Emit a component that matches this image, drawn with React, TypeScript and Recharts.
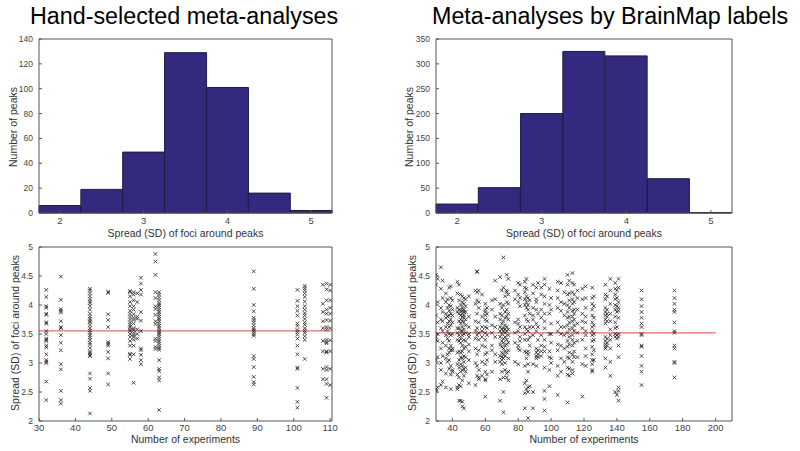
import {
  Bar,
  BarChart,
  ReferenceLine,
  Scatter,
  ScatterChart,
  XAxis,
  YAxis,
} from "recharts";

// histogram bins (centres) and counts
const binCenters = [2, 2.5, 3, 3.5, 4, 4.5, 5];
const handCounts = [6, 19, 49, 129, 101, 16, 2];
const brainmapCounts = [18, 51, 200, 325, 316, 69, 1];

const handYTicks = [0, 20, 40, 60, 80, 100, 120, 140];
const brainmapYTicks = [0, 50, 100, 150, 200, 250, 300, 350];
const spreadTicks = [2, 2.5, 3, 3.5, 4, 4.5, 5];
const handXTicks = [30, 40, 50, 60, 70, 80, 90, 100, 110];
const brainmapXTicks = [40, 60, 80, 100, 120, 140, 160, 180, 200];

const handMean = 3.555;
const brainmapMean = 3.52;

// scatter: [number of experiments, spreads of the peaks of that meta-analysis]
const handColumns: [number, number[]][] = [
  [32, [4.26, 4.14, 3.98, 3.95, 3.85, 3.83, 3.7, 3.68, 3.55, 3.5, 3.42, 3.4, 3.38, 3.3, 3.27, 3.15, 3.05, 3.02, 3.0, 2.68, 2.36]],
  [36, [4.49, 4.09, 3.93, 3.9, 3.87, 3.72, 3.62, 3.6, 3.48, 3.35, 3.22, 2.98, 2.89, 2.52, 2.36, 2.3]],
  [44, [4.28, 4.25, 4.2, 4.15, 4.1, 4.06, 4.03, 3.98, 3.92, 3.85, 3.8, 3.76, 3.72, 3.7, 3.65, 3.6, 3.56, 3.52, 3.48, 3.44, 3.4, 3.35, 3.32, 3.26, 3.2, 3.17, 3.14, 3.12, 2.82, 2.73, 2.57, 2.52, 2.13]],
  [49, [4.23, 4.21, 3.84, 3.74, 3.62, 3.36, 3.33, 3.3, 3.19, 3.08, 2.82, 2.63]],
  [55, [4.24, 4.22, 4.15, 4.05, 3.98, 3.9, 3.85, 3.8, 3.75, 3.7, 3.66, 3.62, 3.58, 3.55, 3.5, 3.45, 3.38, 3.3, 3.16, 3.14, 3.07]],
  [56, [4.22, 4.18, 4.08, 3.98, 3.92, 3.84, 3.78, 3.74, 3.68, 3.6, 3.57, 3.52, 3.48, 3.45, 3.4, 3.3, 3.15, 2.66]],
  [57, [4.2, 4.05, 3.8, 3.76, 3.58, 3.5, 3.42]],
  [58, [4.47, 4.37, 4.26, 4.18, 3.88, 3.73, 3.55, 3.25, 3.22, 3.14, 3.05, 2.98]],
  [62, [4.88, 4.75, 4.52, 4.22, 4.12, 3.98, 3.93, 3.83, 3.72, 3.67, 3.42, 3.38, 3.28, 3.24]],
  [63, [4.22, 4.18, 4.13, 4.08, 4.03, 4.0, 3.96, 3.92, 3.88, 3.84, 3.8, 3.76, 3.72, 3.68, 3.64, 3.6, 3.56, 3.53, 3.5, 3.46, 3.42, 3.38, 3.34, 3.3, 3.26, 3.23, 3.05, 2.9, 2.86, 2.75, 2.7, 2.19]],
  [89, [4.58, 4.28, 4.0, 3.89, 3.78, 3.74, 3.7, 3.65, 3.6, 3.57, 3.54, 3.5, 3.47, 3.12, 3.07, 2.93, 2.76, 2.67, 2.63]],
  [101, [4.26, 4.07, 3.98, 3.9, 3.82, 3.68, 3.64, 3.57, 3.53, 3.49, 3.42, 3.3, 3.15, 2.92, 2.9, 2.57, 2.33, 2.23]],
  [103, [4.33, 4.29, 4.25, 4.2, 4.14, 4.06, 3.98, 3.92, 3.86, 3.82, 3.76, 3.7, 3.66, 3.6, 3.56, 3.52, 3.46, 3.4, 3.07]],
  [108, [4.35, 4.02, 3.88, 3.72, 3.6, 3.38, 3.2, 2.9, 2.72]],
  [109, [4.37, 4.27, 4.08, 3.92, 3.85, 3.74, 3.62, 3.58, 3.4, 3.36, 3.34, 3.2, 3.18, 2.93, 2.88, 2.72, 2.64, 2.4]],
  [110, [4.35, 4.25, 4.08, 3.95, 3.85, 3.73, 3.6, 3.39, 3.2, 2.9, 2.62]],
];

const brainmapColumns: [number, number[]][] = [
  [30, [4.52, 4.35, 3.82, 3.45, 3.4, 3.05, 2.55, 2.52]],
  [31, [4.45, 4.05, 3.7, 3.5, 3.38, 3.1, 2.58]],
  [33, [4.65, 4.28, 3.95, 3.75, 3.6, 3.25, 3.0, 2.88, 2.62]],
  [34, [4.42, 4.12, 3.88, 3.72, 3.55, 3.35, 3.12, 2.68]],
  [36, [4.2, 4.05, 3.85, 3.78, 3.62, 3.48, 3.3, 3.08, 2.82, 2.58]],
  [37, [4.1, 3.95, 3.8, 3.68, 3.55, 3.42, 3.15, 3.02]],
  [38, [4.3, 4.0, 3.9, 3.82, 3.72, 3.62, 3.5, 3.38, 3.25, 3.18, 3.05, 2.9]],
  [39, [4.32, 4.12, 3.98, 3.85, 3.75, 3.65, 3.48, 3.3, 3.22, 2.95, 2.8, 2.55]],
  [40, [4.08, 3.92, 3.82, 3.7, 3.5, 3.25, 3.22, 2.88, 2.85]],
  [43, [4.4, 4.2, 3.95, 3.88, 3.6, 3.52, 3.4, 3.18, 2.98, 2.8, 2.58, 2.55]],
  [44, [4.35, 4.08, 3.92, 3.85, 3.72, 3.6, 3.48, 3.38, 3.2, 3.05, 2.92, 2.75, 2.62, 2.35]],
  [45, [4.18, 4.0, 3.9, 3.82, 3.75, 3.68, 3.55, 3.42, 3.35, 3.18, 3.1, 2.98, 2.85, 2.6, 2.35]],
  [46, [4.15, 4.05, 3.95, 3.9, 3.85, 3.8, 3.72, 3.62, 3.55, 3.48, 3.3, 3.2, 3.08, 2.95, 2.88, 2.7, 2.33, 2.25]],
  [47, [4.12, 4.02, 3.92, 3.88, 3.82, 3.78, 3.7, 3.58, 3.5, 3.4, 3.25, 3.12, 3.02, 2.9, 2.78, 2.22]],
  [48, [4.1, 3.98, 3.88, 3.75, 3.65, 3.52, 3.38, 3.28, 3.1, 2.92, 2.85]],
  [50, [4.15, 3.8, 3.62, 3.5, 3.45, 3.32, 3.2, 3.05, 2.65]],
  [54, [4.25, 4.02, 3.72, 3.55, 3.42, 3.25, 3.0, 2.62]],
  [55, [4.58, 4.57, 4.22, 4.08, 3.85, 3.6, 3.48, 3.15, 2.95, 2.78]],
  [56, [4.25, 4.05, 3.95, 3.7, 3.52, 3.4, 3.22, 2.88, 2.75, 2.72]],
  [58, [4.18, 3.8, 3.62, 3.55, 3.45, 3.3, 3.02, 2.78]],
  [60, [4.02, 3.92, 3.88, 3.82, 3.75, 3.62, 3.52, 3.4, 3.28, 3.15, 2.98, 2.85, 2.72, 2.7, 2.42]],
  [61, [3.95, 3.85, 3.72, 3.6, 3.48, 3.18, 3.05, 2.8]],
  [64, [4.08, 3.92, 3.65, 3.52, 3.3, 3.22, 2.85]],
  [66, [4.42, 4.1, 3.8, 3.62, 3.45, 3.15, 3.02]],
  [69, [4.48, 4.02, 3.85, 3.75, 3.62, 3.55, 3.45, 3.32, 3.12, 3.02, 2.72, 2.35]],
  [70, [4.25, 3.95, 3.82, 3.68, 3.58, 3.5, 3.38, 3.28, 3.18, 3.1, 3.05, 2.98, 2.85]],
  [71, [4.82, 4.3, 4.0, 3.72, 3.6, 3.55, 3.42, 3.35, 3.25, 3.15, 3.08, 2.75, 2.5, 2.15]],
  [72, [4.15, 3.88, 3.78, 3.65, 3.58, 3.52, 3.45, 3.3, 3.2, 3.12, 3.0, 2.88]],
  [73, [4.52, 4.25, 4.22, 4.05, 3.92, 3.8, 3.62, 3.55, 3.4, 3.32, 3.18, 2.82, 2.75]],
  [74, [4.45, 4.18, 4.02, 3.85, 3.75, 3.58, 3.48, 3.35, 3.22, 3.08, 2.85, 2.7]],
  [78, [4.25, 4.1, 3.7, 3.52, 3.35, 3.02]],
  [80, [4.38, 4.18, 4.05, 3.75, 3.68, 3.55, 3.3, 3.25, 2.98]],
  [81, [4.35, 4.12, 3.98, 3.62, 3.45, 3.38, 3.22]],
  [84, [4.4, 4.3, 4.22, 4.1, 4.0, 3.82, 3.62, 3.5, 3.4, 3.2, 2.95, 2.65, 2.48, 2.22]],
  [85, [4.45, 4.28, 4.15, 4.05, 3.95, 3.75, 3.58, 3.18, 3.08, 2.7, 2.55]],
  [86, [4.12, 4.0, 3.92, 3.72, 3.55, 3.4, 3.2, 3.15, 2.98, 2.85, 2.58, 2.5, 2.05]],
  [87, [4.08, 3.85, 3.62, 3.45, 3.3, 2.6]],
  [89, [4.35, 4.2, 3.95, 3.82, 3.75, 3.62, 3.48, 2.98, 2.5, 2.22]],
  [91, [4.3, 4.1, 4.05, 3.92, 3.68, 3.55, 3.25, 3.18, 3.12, 3.08, 2.95]],
  [92, [4.38, 3.85, 3.62, 3.4, 3.22, 3.15, 3.1]],
  [94, [4.3, 4.18, 3.92, 3.78, 3.48, 3.3, 3.2, 3.12]],
  [96, [4.45, 4.35, 4.15, 4.02, 3.85, 3.72, 3.6, 3.4, 3.28, 3.2, 2.92, 2.52, 2.38, 2.18]],
  [99, [4.28, 4.0, 3.85, 3.5, 3.2, 3.1, 2.88, 2.6]],
  [100, [4.12, 3.92, 3.68, 3.5, 3.35, 3.08, 3.0]],
  [104, [4.4, 4.25, 4.12, 3.95, 3.7, 3.55, 3.32, 3.22, 2.95, 2.78, 2.45]],
  [106, [4.38, 4.05, 3.9, 3.62, 3.5, 3.3, 3.08, 2.85]],
  [108, [4.22, 4.02, 3.82, 3.62, 3.48, 3.25, 3.02]],
  [110, [4.52, 4.35, 4.18, 4.0, 3.88, 3.78, 3.65, 3.52, 3.38, 3.28, 3.1, 2.92, 2.8, 2.32]],
  [111, [4.42, 4.2, 4.08, 3.95, 3.8, 3.7, 3.58, 3.45, 3.32, 3.18, 3.08, 2.9, 2.78]],
  [113, [4.55, 4.38, 4.22, 4.1, 4.02, 3.9, 3.8, 3.72, 3.6, 3.48, 3.4, 3.3, 3.15, 3.02, 2.88, 2.82]],
  [114, [4.35, 4.18, 4.05, 3.92, 3.85, 3.75, 3.65, 3.55, 3.35, 3.2, 3.1]],
  [116, [4.25, 4.12, 3.92, 3.68, 3.52, 3.38, 3.1]],
  [119, [4.28, 4.1, 3.85, 3.72, 3.6, 3.4, 2.98, 2.42]],
  [121, [4.32, 4.12, 3.95, 3.8, 3.7, 3.55, 3.48, 3.25, 3.12, 2.95]],
  [125, [4.3, 4.12, 4.02, 3.92, 3.82, 3.7, 3.62, 3.55, 3.48, 3.38, 3.28, 3.15, 3.05, 2.98, 2.88, 2.85]],
  [126, [4.15, 3.98, 3.78, 3.65, 3.5, 3.4, 3.22, 3.05]],
  [133, [4.35, 4.18, 4.1, 3.95, 3.88, 3.82, 3.75, 3.68, 3.45, 3.38, 3.32, 3.28, 3.25, 3.08, 2.92]],
  [134, [4.15, 3.92, 3.85, 3.8, 3.72, 3.42, 3.35, 3.3]],
  [136, [4.45, 4.25, 4.02, 3.85, 3.72, 3.58, 3.48, 3.4, 3.25, 3.02, 2.78]],
  [139, [4.38, 4.28, 4.18, 4.1, 4.0, 3.92, 3.8, 3.7, 3.6, 3.5, 3.45, 2.5]],
  [140, [4.25, 4.12, 3.98, 3.88, 3.62, 3.48, 3.42, 2.45]],
  [141, [4.45, 4.3, 4.05, 3.95, 3.9, 3.78, 3.5, 3.45, 3.3, 3.1, 2.58, 2.52, 2.35]],
  [155, [4.25, 4.1, 3.98, 3.88, 3.78, 3.68, 3.62, 3.5, 3.48, 3.3, 3.28, 3.12, 2.95, 2.85, 2.62]],
  [175, [4.25, 4.12, 4.02, 3.92, 3.88, 3.7, 3.55, 3.52, 3.3, 3.25, 3.02, 3.0, 2.75]],
];

const FONT = '"Liberation Sans", Arial, Helvetica, sans-serif';
const AXIS = "#555";
const Y_TICK = { fontSize: 8.5, fill: "#444", fontFamily: FONT };
const X_TICK = { fontSize: 9.5, fill: "#444", fontFamily: FONT };
const BAR_FILL = "#332a80";

const toPoints = (cols: [number, number[]][]) =>
  cols.flatMap(([x, ys]) => ys.map((y) => ({ x, y })));

function Cross(props: any) {
  const { cx, cy } = props;
  if (cx == null || cy == null) return null;
  const s = 1.8;
  return (
    <path
      d={`M${cx - s},${cy - s}L${cx + s},${cy + s}M${cx - s},${cy + s}L${cx + s},${cy - s}`}
      stroke="#222"
      strokeWidth={0.8}
      fill="none"
    />
  );
}

function Histogram({
  counts,
  yTicks,
  left,
  yAxisWidth,
}: {
  counts: number[];
  yTicks: number[];
  left: number;
  yAxisWidth: number;
}) {
  const data = binCenters.map((bin, i) => ({ bin, count: counts[i] }));
  const yMax = yTicks[yTicks.length - 1];
  return (
    <div style={{ position: "absolute", left, top: 0 }}>
      <BarChart
        width={400}
        height={240}
        data={data}
        barCategoryGap={0}
        margin={{ top: 35, right: 64, left: 0, bottom: 0 }}
      >
        <XAxis
          dataKey="bin"
          interval={1}
          tick={X_TICK}
          tickSize={-3}
          tickMargin={7}
          stroke={AXIS}
          height={27}
          label={{
            value: "Spread (SD) of foci around  peaks",
            position: "insideBottom",
            offset: 3,
            style: { fontSize: 10.5, fill: "#333", fontFamily: FONT },
          }}
        />
        <XAxis
          xAxisId="top"
          orientation="top"
          dataKey="bin"
          interval={1}
          tick={false}
          tickSize={-3}
          stroke={AXIS}
          height={4}
        />
        <YAxis
          type="number"
          domain={[0, yMax]}
          ticks={yTicks}
          tick={Y_TICK}
          tickSize={-3}
          tickMargin={9}
          stroke={AXIS}
          width={yAxisWidth}
        />
        <YAxis
          yAxisId="right"
          orientation="right"
          type="number"
          domain={[0, yMax]}
          ticks={yTicks}
          tick={false}
          tickSize={-3}
          stroke={AXIS}
          width={4}
        />
        <Bar
          dataKey="count"
          fill={BAR_FILL}
          stroke="#1c1c40"
          strokeWidth={1}
          isAnimationActive={false}
        />
      </BarChart>
    </div>
  );
}

function SpreadScatter({
  columns,
  xDomain,
  xTicks,
  mean,
  meanEnd,
  left,
  yAxisWidth,
}: {
  columns: [number, number[]][];
  xDomain: [number, number];
  xTicks: number[];
  mean: number;
  meanEnd: number;
  left: number;
  yAxisWidth: number;
}) {
  const points = toPoints(columns);
  return (
    <div style={{ position: "absolute", left, top: 220 }}>
      <ScatterChart
        width={400}
        height={231}
        margin={{ top: 23, right: 64, left: 0, bottom: 0 }}
      >
        <XAxis
          type="number"
          dataKey="x"
          domain={xDomain}
          ticks={xTicks}
          allowDataOverflow
          tick={X_TICK}
          tickSize={-3}
          tickMargin={6}
          stroke={AXIS}
          height={30}
          label={{
            value: "Number of experiments",
            position: "insideBottom",
            offset: 8,
            style: { fontSize: 10.5, fill: "#333", fontFamily: FONT },
          }}
        />
        <XAxis
          xAxisId="top"
          orientation="top"
          type="number"
          domain={xDomain}
          ticks={xTicks}
          allowDataOverflow
          tick={false}
          tickSize={-3}
          stroke={AXIS}
          height={4}
        />
        <YAxis
          type="number"
          dataKey="y"
          domain={[2, 5]}
          ticks={spreadTicks}
          allowDataOverflow
          tick={Y_TICK}
          tickSize={-3}
          tickMargin={9}
          stroke={AXIS}
          width={yAxisWidth}
        />
        <YAxis
          yAxisId="right"
          orientation="right"
          type="number"
          domain={[2, 5]}
          ticks={spreadTicks}
          tick={false}
          tickSize={-3}
          stroke={AXIS}
          width={4}
        />
        <ReferenceLine
          segment={[
            { x: xDomain[0], y: mean },
            { x: meanEnd, y: mean },
          ]}
          stroke="#e86a6a"
          strokeWidth={1.3}
        />
        <Scatter data={points} shape={<Cross />} isAnimationActive={false} />
      </ScatterChart>
    </div>
  );
}

const yLabelStyle = (x: number, y: number): React.CSSProperties => ({
  position: "absolute",
  left: x,
  top: y,
  transform: "translate(-50%, -50%) rotate(-90deg)",
  whiteSpace: "nowrap",
  fontSize: 10.5,
  color: "#333",
  fontFamily: FONT,
});

const titleStyle = (x: number): React.CSSProperties => ({
  position: "absolute",
  left: x,
  top: 3,
  fontSize: 23.3,
  color: "#000",
  whiteSpace: "nowrap",
});

export default function App() {
  return (
    <div
      style={{
        position: "fixed",
        left: 0,
        top: 0,
        width: 800,
        height: 451,
        background: "#fff",
        overflow: "hidden",
        fontFamily: FONT,
      }}
    >
      <div style={titleStyle(30)}>Hand-selected meta-analyses</div>
      <div style={titleStyle(432)}>Meta-analyses by BrainMap labels</div>

      <Histogram counts={handCounts} yTicks={handYTicks} left={0} yAxisWidth={39} />
      <Histogram counts={brainmapCounts} yTicks={brainmapYTicks} left={400} yAxisWidth={36} />

      <SpreadScatter
        columns={handColumns}
        xDomain={[30, 110.5]}
        xTicks={handXTicks}
        mean={handMean}
        meanEnd={110.5}
        left={0}
        yAxisWidth={39}
      />
      <SpreadScatter
        columns={brainmapColumns}
        xDomain={[30, 210]}
        xTicks={brainmapXTicks}
        mean={brainmapMean}
        meanEnd={200}
        left={400}
        yAxisWidth={36}
      />

      <div style={yLabelStyle(13, 127)}>Number of peaks</div>
      <div style={yLabelStyle(409, 127)}>Number of peaks</div>
      <div style={yLabelStyle(15, 333)}>Spread (SD) of foci around  peaks</div>
      <div style={yLabelStyle(412, 333)}>Spread (SD) of foci around  peaks</div>
    </div>
  );
}
